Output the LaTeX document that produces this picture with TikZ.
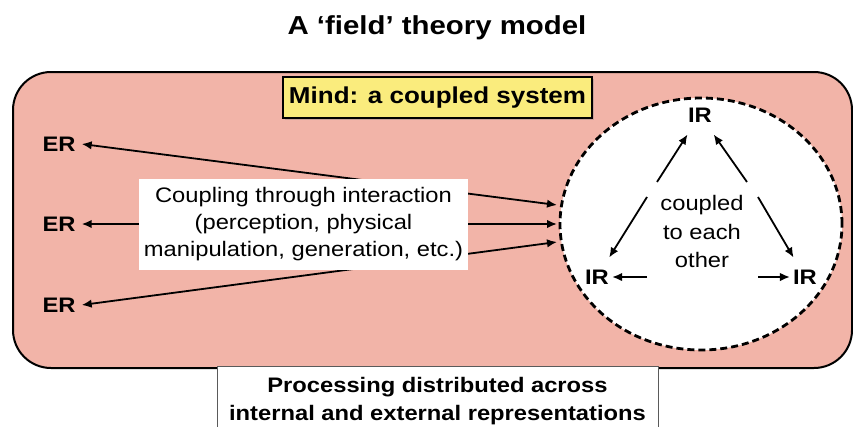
\documentclass[tikz,border=0pt]{standalone}
\usepackage{fontspec}
\setmainfont{Liberation Sans}[FakeStretch=1.13]
\usetikzlibrary{arrows.meta,shapes.geometric,shadows}
\definecolor{salmon}{RGB}{242,180,168}
\definecolor{mindyellow}{RGB}{250,236,125}
\definecolor{boxgray}{RGB}{90,90,90}
\tikzset{
  arr/.style={line width=1.8pt,-{Latex[length=10pt,width=8.5pt]}},
  dbl/.style={line width=1.8pt,{Latex[length=10pt,width=8.5pt]}-{Latex[length=10pt,width=8.5pt]}},
  rep/.style={font=\bfseries\fontsize{21}{25}\selectfont,inner xsep=3pt,inner ysep=12pt},
  erlabel/.style={font=\bfseries\fontsize{21}{25}\selectfont,inner xsep=6pt,inner ysep=3pt},
}
\begin{document}
\begin{tikzpicture}[x=1pt,y=-1pt]
\useasboundingbox (0,0) rectangle (853,426);
% title
\node[font=\bfseries\fontsize{26}{30}\selectfont] (title) at (437,28) {A ‘field’ theory model};
% outer field
\draw[fill=salmon,line width=2pt,rounded corners=38pt] (13,72) rectangle (852,368);
% ER nodes
\node[erlabel] (er1) at (59,144) {ER};
\node[erlabel] (er2) at (59,224) {ER};
\node[erlabel] (er3) at (59,305) {ER};
\coordinate (c1) at (557,205);
\coordinate (c2) at (557,224);
\coordinate (c3) at (557,242);
\draw[dbl] (er1.east) -- (c1);
\draw[dbl] (er2.east) -- (c2);
\draw[dbl] (er3.east) -- (c3);
% coupling label
\node[fill=white,minimum width=329pt,minimum height=91pt,align=center,
      font=\fontsize{21}{27}\selectfont] (coupling) at (303.5,224.5)
      {Coupling through interaction\\(perception, physical\\manipulation, generation, etc.)};
% mind label
\node[fill=mindyellow,draw,line width=1.4pt,minimum width=309pt,minimum height=41pt,
      font=\bfseries\fontsize{23}{27}\selectfont,
      drop shadow={shadow xshift=1.5pt,shadow yshift=-1.5pt,opacity=0.35}] (mind) at (437.5,97.5)
      {Mind: a coupled system};
% internal field
\node[ellipse,draw,dash pattern=on 7pt off 4pt,line width=2.8pt,fill=white,
      minimum width=282pt,minimum height=252pt] (inner) at (701,224) {};
\node[rep] (ir1) at (700,115) {IR};
\node[rep] (ir2) at (597,277) {IR};
\node[rep] (ir3) at (805,277) {IR};
\node[align=center,font=\fontsize{21}{28.5}\selectfont] (coupled) at (702,231.5)
      {coupled\\to each\\other};
\coordinate (d1) at (657,182);
\coordinate (d2) at (747,182);
\coordinate (d3) at (647,197);
\coordinate (d4) at (758,197);
\coordinate (h1) at (647,277);
\coordinate (h2) at (758,277);
\draw[arr] (d1) -- (ir1);
\draw[arr] (d2) -- (ir1);
\draw[arr] (d3) -- (ir2);
\draw[arr] (d4) -- (ir3);
\draw[arr] (h1) -- (ir2.east);
\draw[arr] (h2) -- (ir3.west);
% bottom box
\node[draw=boxgray,line width=1pt,fill=white,minimum width=441pt,minimum height=70pt,
      align=center,font=\bfseries\fontsize{21}{28}\selectfont] (proc) at (437.5,401)
      {Processing distributed across\\internal and external representations};
\end{tikzpicture}
\end{document}
